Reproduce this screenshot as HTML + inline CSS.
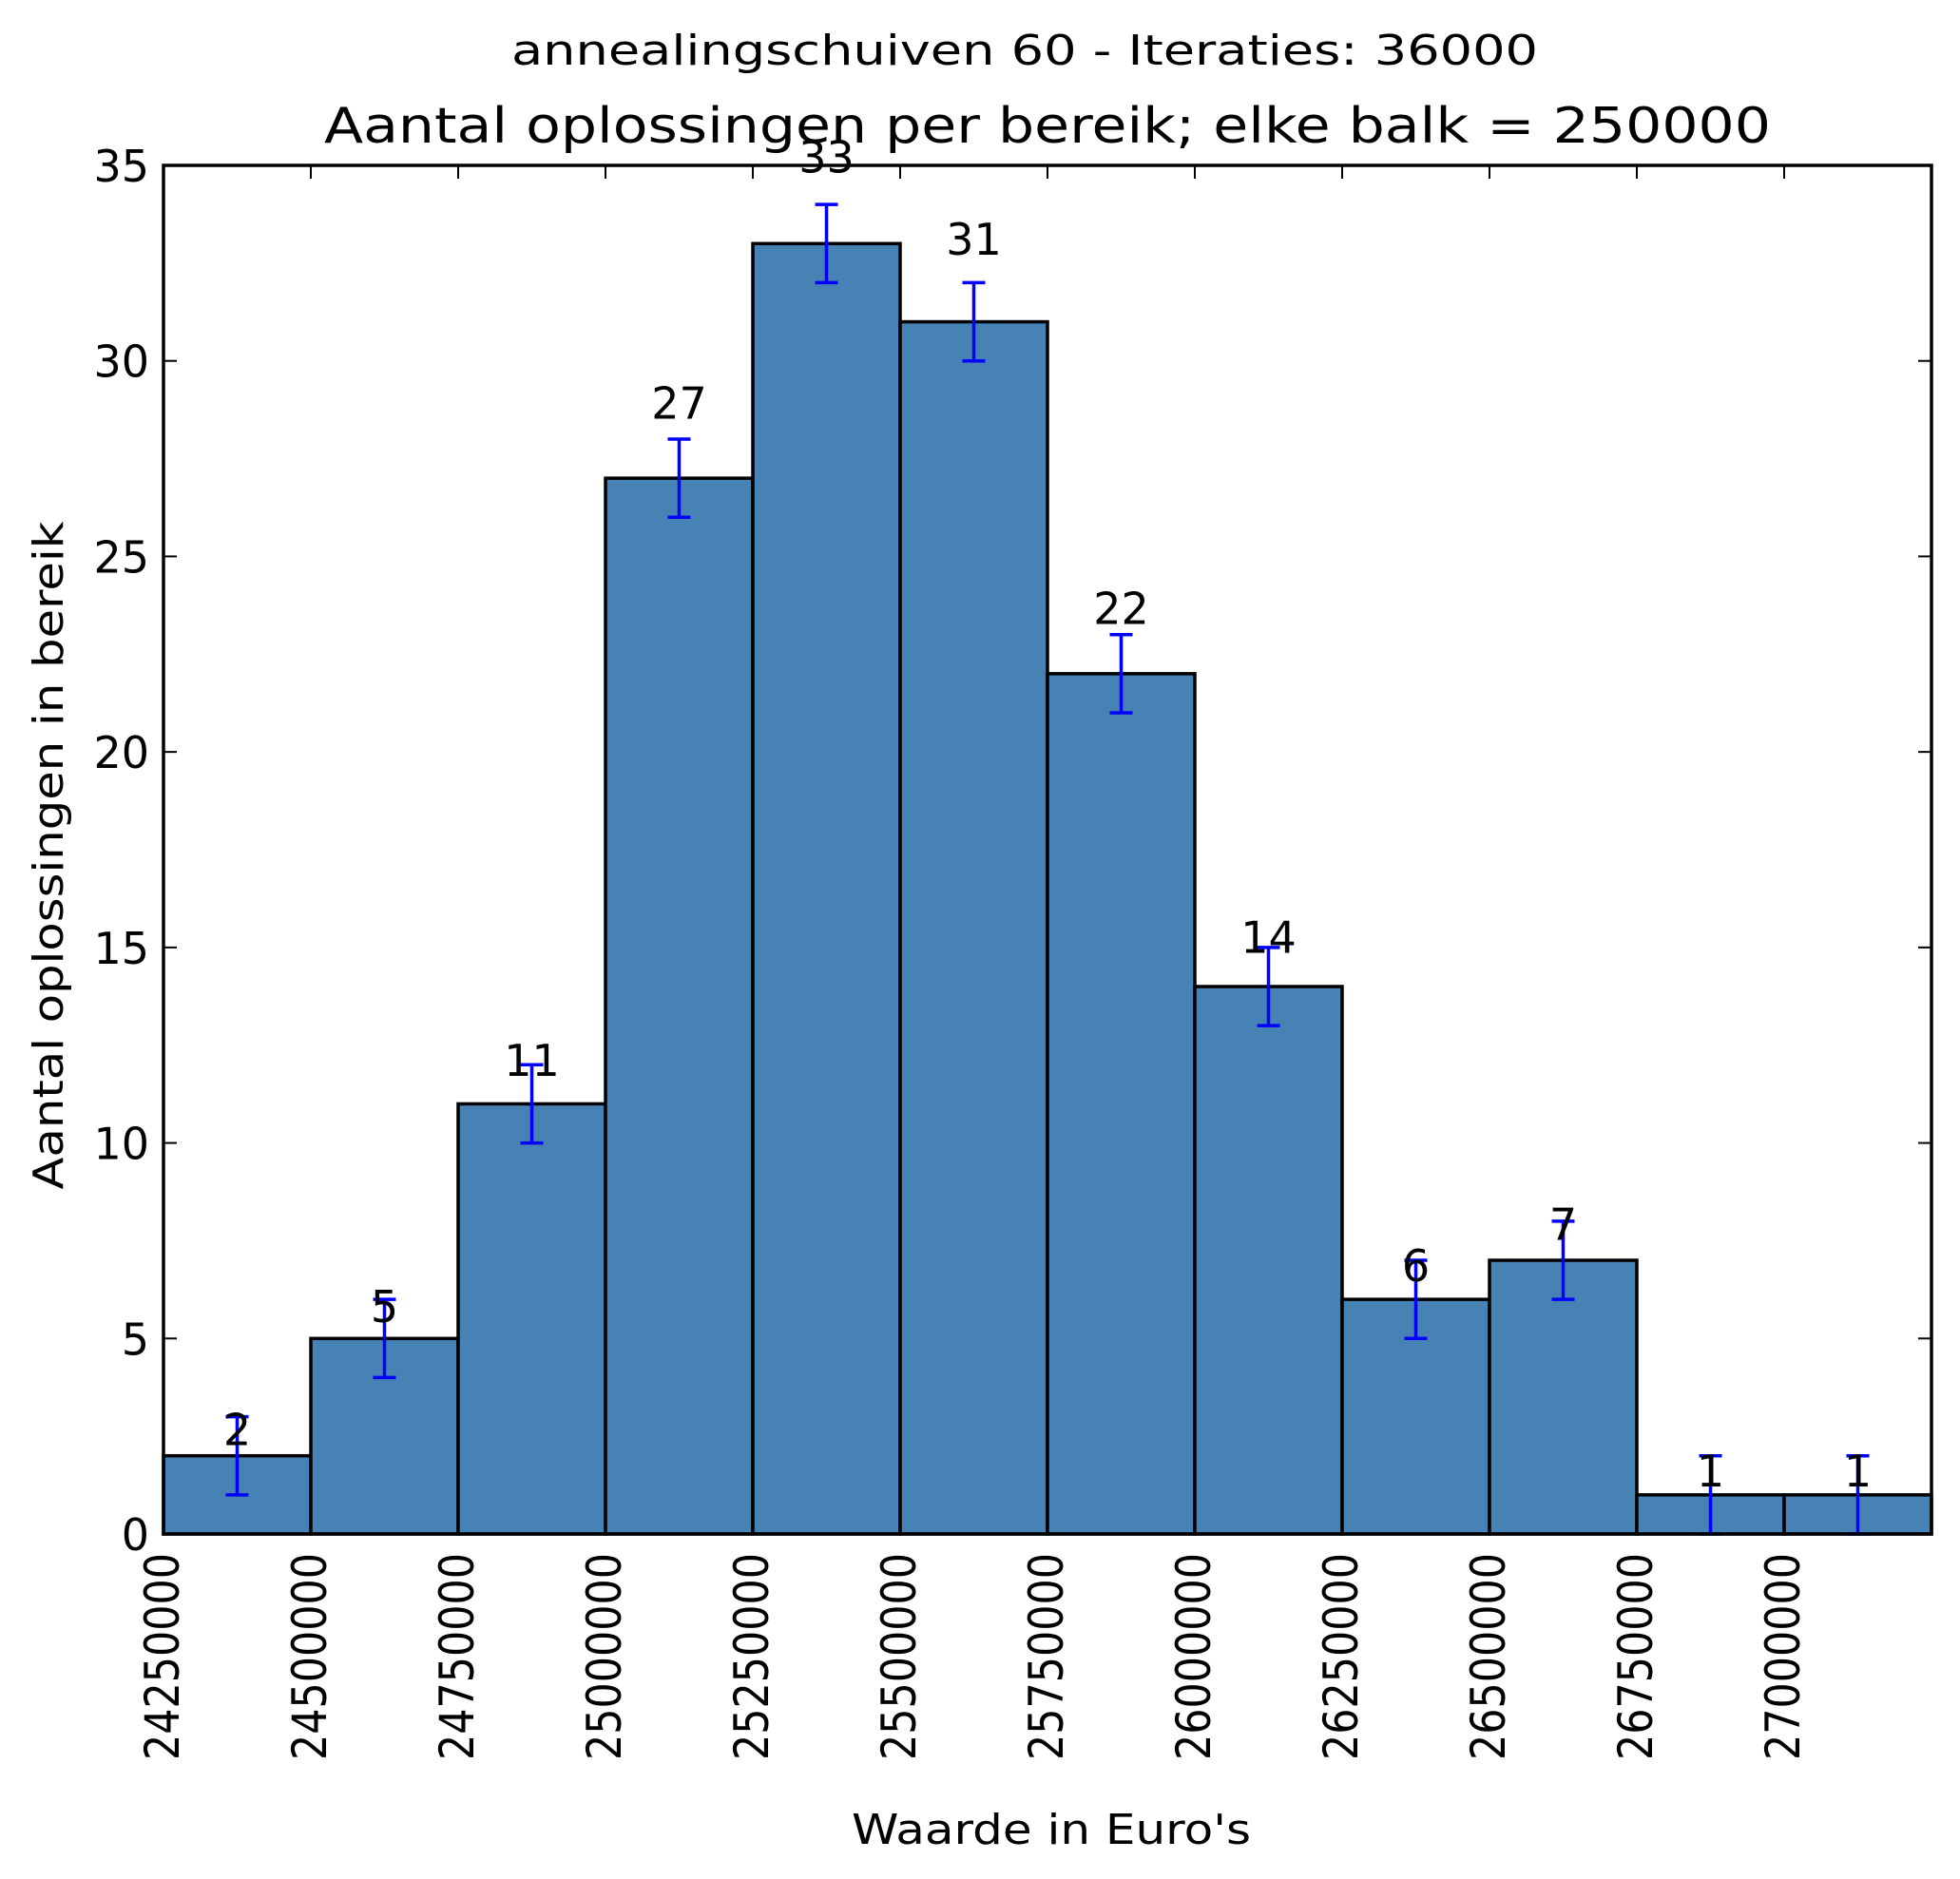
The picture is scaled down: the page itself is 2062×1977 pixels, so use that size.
<!DOCTYPE html>
<html><head><meta charset="utf-8"><style>
html,body{margin:0;padding:0;background:#fff;}
svg{display:block;font-family:"DejaVu Sans","Liberation Sans",sans-serif;}
</style></head><body>
<svg id="chart" width="2062" height="1977" viewBox="0 0 2062 1977" xmlns="http://www.w3.org/2000/svg">
<text x="1078" y="68" font-size="44" text-anchor="middle" textLength="1080" lengthAdjust="spacingAndGlyphs">annealingschuiven 60 - Iteraties: 36000</text>
<text x="1102" y="150" font-size="52" text-anchor="middle" textLength="1522" lengthAdjust="spacingAndGlyphs">Aantal oplossingen per bereik; elke balk = 250000</text>
<g id="bars"></g>
<g id="errs"></g>
<g id="vals"></g>
<g id="axes"></g>
<text transform="translate(66,900) rotate(-90)" font-size="44" text-anchor="middle" textLength="703" lengthAdjust="spacingAndGlyphs">Aantal oplossingen in bereik</text>
<text x="1106" y="1940" font-size="44" text-anchor="middle" textLength="420" lengthAdjust="spacingAndGlyphs">Waarde in Euro's</text>
</svg>
<script>
const binStarts = [24250000,24500000,24750000,25000000,25250000,25500000,25750000,26000000,26250000,26500000,26750000,27000000];
const counts = [2,5,11,27,33,31,22,14,6,7,1,1];
const errors = [1,1,1,1,1,1,1,1,1,1,1,1];
const xTicks = [24250000,24500000,24750000,25000000,25250000,25500000,25750000,26000000,26250000,26500000,26750000,27000000];
const yTicks = [0,5,10,15,20,25,30,35];
const binWidth = 250000;
const X0=172,X1=2032,Y0=1614,Y1=174;
const xMin=24250000,xMax=27250000,yMin=0,yMax=35;
const NS="http://www.w3.org/2000/svg";
function sx(v){return X0+(v-xMin)/(xMax-xMin)*(X1-X0);}
function sy(v){return Y0-(v-yMin)/(yMax-yMin)*(Y0-Y1);}
function mk(tag,attrs,parent){const e=document.createElementNS(NS,tag);for(const k in attrs)e.setAttribute(k,attrs[k]);parent.appendChild(e);return e;}
const bars=document.getElementById('bars'),errs=document.getElementById('errs'),vals=document.getElementById('vals'),axes=document.getElementById('axes');
counts.forEach((c,i)=>{
  const x=sx(binStarts[i]),w=sx(binStarts[i]+binWidth)-x,y=sy(c);
  const r=mk('rect',{x:x,y:y,width:w,height:Y0-y,fill:'#4682b4',stroke:'#000','stroke-width':3.5},bars);
  
  
  const cx=sx(binStarts[i]+binWidth/2);
  const g=mk('g',{stroke:'#0000ff','stroke-width':3.5},errs);
  
  
  mk('line',{x1:cx,x2:cx,y1:sy(c-errors[i]),y2:sy(c+errors[i])},g);
  mk('line',{x1:cx-12,x2:cx+12,y1:sy(c-errors[i]),y2:sy(c-errors[i])},g);
  mk('line',{x1:cx-12,x2:cx+12,y1:sy(c+errors[i]),y2:sy(c+errors[i])},g);
  const t=mk('text',{x:cx,y:sy(c*1.05+0.58)+17,'font-size':46,'text-anchor':'middle'},vals);
  t.textContent=c;
  
  
});
const frame=mk('rect',{x:X0,y:Y1,width:X1-X0,height:Y0-Y1,fill:'none',stroke:'#000','stroke-width':3.5},axes);


yTicks.forEach(v=>{
  const y=sy(v);
  mk('line',{x1:X0,x2:X0+14,y1:y,y2:y,stroke:'#000','stroke-width':2},axes);
  mk('line',{x1:X1-14,x2:X1,y1:y,y2:y,stroke:'#000','stroke-width':2},axes);
  const t=mk('text',{x:157,y:y+17,'font-size':46,'text-anchor':'end'},axes);
  t.textContent=v;
  
  
});
xTicks.forEach(v=>{
  const x=sx(v);
  mk('line',{x1:x,x2:x,y1:Y0,y2:Y0-14,stroke:'#000','stroke-width':2},axes);
  mk('line',{x1:x,x2:x,y1:Y1,y2:Y1+14,stroke:'#000','stroke-width':2},axes);
  const t=mk('text',{transform:'translate('+(x+16)+',1634) rotate(-90)','font-size':50,'text-anchor':'end',textLength:218,lengthAdjust:'spacingAndGlyphs'},axes);
  t.textContent=v;
  
  
});
</script>
</body></html>
